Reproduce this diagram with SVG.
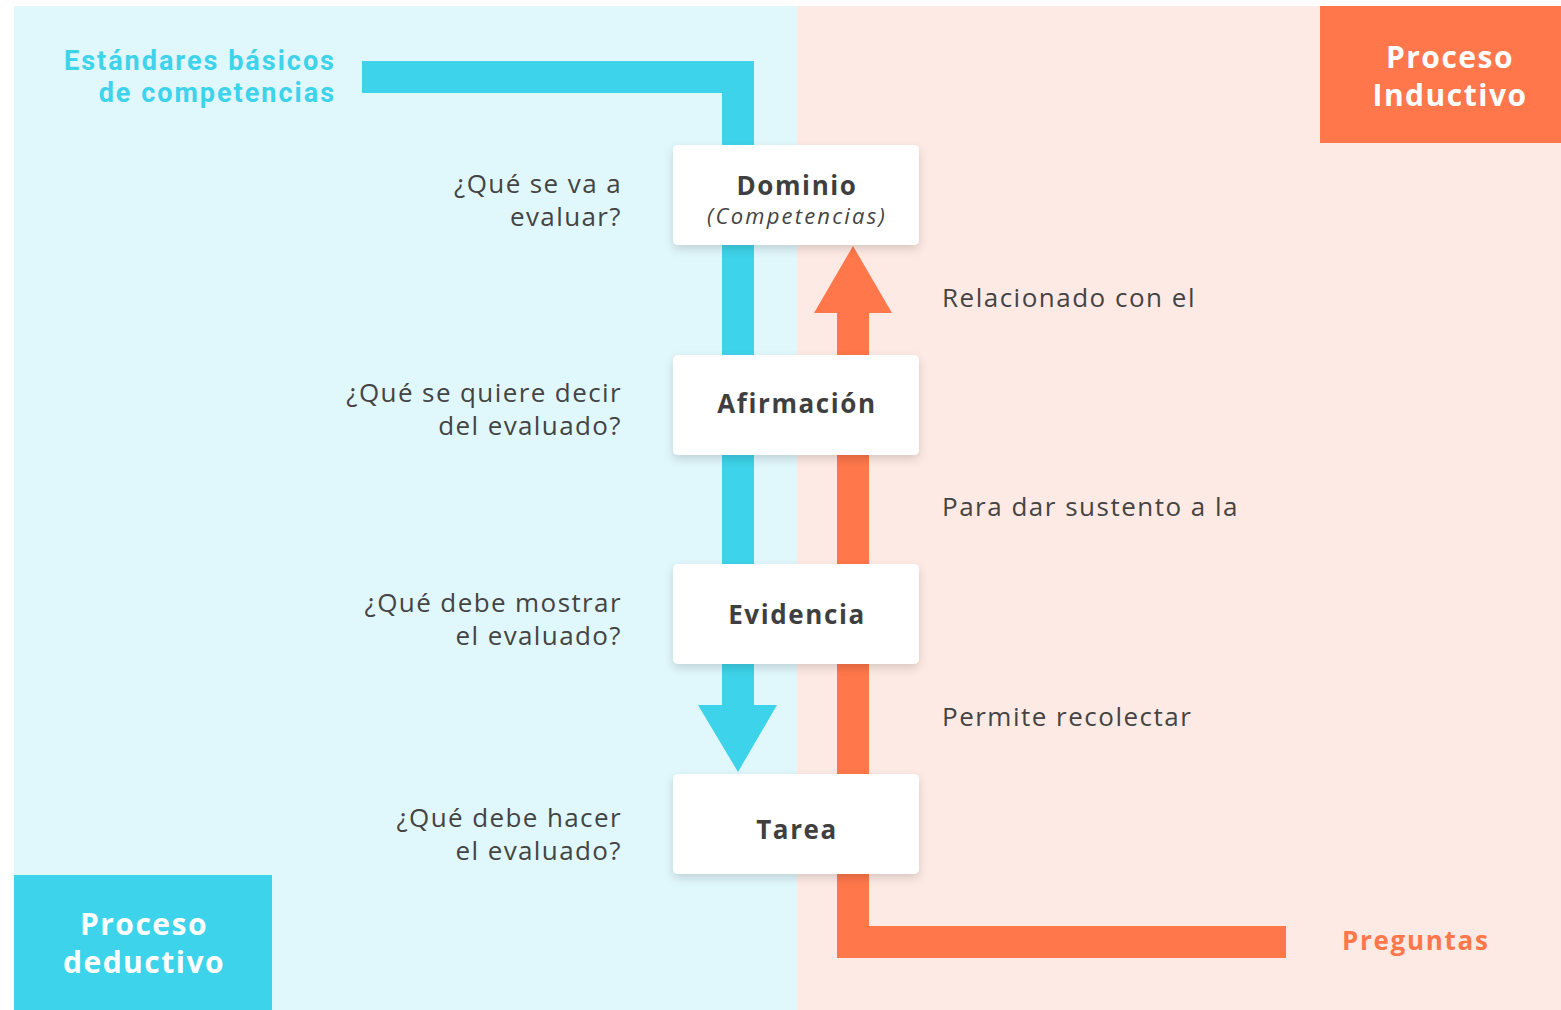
<svg xmlns="http://www.w3.org/2000/svg" width="1561" height="1010" viewBox="0 0 1561 1010">
<defs>
<filter id="sh" x="-20%" y="-30%" width="140%" height="170%">
<feDropShadow dx="0" dy="4" stdDeviation="5" flood-color="#000" flood-opacity="0.15"/>
</filter>
<style>
text{font-family:"Open Sans","Inter","Liberation Sans",sans-serif;}
.q{font-size:26px;fill:#444;text-anchor:end;letter-spacing:1.4px;}
.r{font-size:26px;fill:#444;letter-spacing:1.5px;}
.nt{font-size:26px;font-weight:700;fill:#3f3f3f;text-anchor:middle;letter-spacing:1.6px;}
.ni{font-size:22px;font-style:italic;fill:#444;text-anchor:middle;letter-spacing:2.2px;}
.box{fill:#fff;rx:5;filter:url(#sh);}
.cy{fill:#3DD3EA;}
.or{fill:#FF774B;}
.hd{font-size:30px;font-weight:700;fill:#fff;text-anchor:middle;letter-spacing:1.5px;}
.st{font-family:Roboto,"Open Sans",sans-serif;font-size:27px;font-weight:700;fill:#3DD3EA;text-anchor:end;letter-spacing:2px;}
</style>
</defs>
<rect width="1561" height="1010" fill="#fff"/>
<rect x="14" y="6" width="783" height="1004" fill="#E0F7FC"/>
<rect x="797" y="6" width="764" height="1004" fill="#FEEAE4"/>
<g id="proceso-inductivo">
<rect x="1320" y="6" width="241" height="137" class="or"/>
<text x="1450" y="68" class="hd">Proceso</text>
<text x="1450" y="106" class="hd">Inductivo</text>
</g>
<g id="proceso-deductivo">
<rect x="14" y="875" width="258" height="135" class="cy"/>
<text x="144" y="935" class="hd">Proceso</text>
<text x="144" y="973" class="hd">deductivo</text>
</g>
<g id="estandares">
<text x="336" y="70" class="st">Estándares básicos</text>
<text x="336" y="102" class="st">de competencias</text>
</g>
<g id="preguntas">
<text x="1342" y="950" style="font-size:26px;font-weight:700;fill:#FF774B;letter-spacing:1.7px">Preguntas</text>
</g>
<g id="connectors">
<polygon class="cy" points="362,61 754,61 754,705 777,705 738,772 698,705 722,705 722,93 362,93"/>
<polygon class="or" points="1286,926 1286,958 837,958 837,313 814,313 853,246 892,313 869,313 869,926"/>
</g>
<g id="dominio">
<rect x="673" y="145" width="246" height="100" class="box"/>
<text x="797" y="195" class="nt">Dominio</text>
<text x="797" y="224" class="ni">(Competencias)</text>
</g>
<g id="afirmacion">
<rect x="673" y="355" width="246" height="100" class="box"/>
<text x="797" y="413" class="nt">Afirmación</text>
</g>
<g id="evidencia">
<rect x="673" y="564" width="246" height="100" class="box"/>
<text x="797" y="624" class="nt">Evidencia</text>
</g>
<g id="tarea">
<rect x="673" y="774" width="246" height="100" class="box"/>
<text x="797" y="839" class="nt">Tarea</text>
</g>
<g id="preguntas-izq">
<text x="622" y="193" class="q">¿Qué se va a</text>
<text x="622" y="226" class="q">evaluar?</text>
<text x="622" y="402" class="q">¿Qué se quiere decir</text>
<text x="622" y="435" class="q">del evaluado?</text>
<text x="622" y="612" class="q">¿Qué debe mostrar</text>
<text x="622" y="645" class="q">el evaluado?</text>
<text x="622" y="827" class="q">¿Qué debe hacer</text>
<text x="622" y="860" class="q">el evaluado?</text>
</g>
<g id="relaciones">
<text x="942" y="307" class="r">Relacionado con el</text>
<text x="942" y="516" class="r">Para dar sustento a la</text>
<text x="942" y="726" class="r">Permite recolectar</text>
</g>
</svg>
